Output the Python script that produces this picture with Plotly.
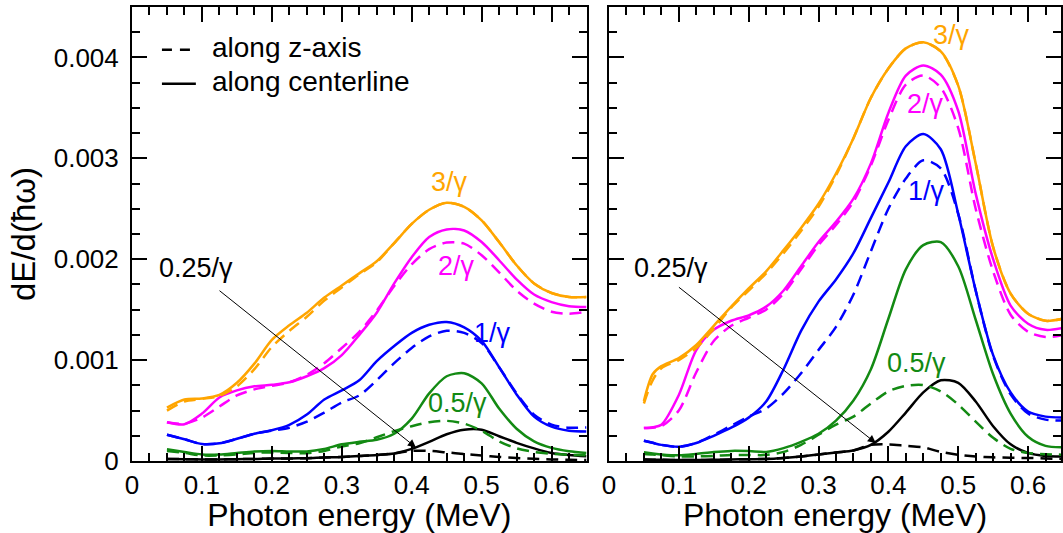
import numpy as np
import plotly.graph_objects as go

# ---------------- data (values in units of 1e-3) ----------------
x_left = [0.05, 0.075, 0.1, 0.125, 0.15, 0.175, 0.2, 0.225, 0.25, 0.275, 0.3, 0.325,
          0.35, 0.375, 0.4, 0.425, 0.45, 0.475, 0.5, 0.525, 0.55, 0.575, 0.6, 0.625, 0.65]
x_right = [0.05, 0.0625, 0.075, 0.1, 0.125, 0.15, 0.175, 0.2, 0.225, 0.25, 0.275, 0.3, 0.325,
           0.35, 0.375, 0.4, 0.425, 0.45, 0.475, 0.5, 0.525, 0.55, 0.575, 0.6, 0.625, 0.65]

# left panel
L_3_solid = [0.53, 0.61, 0.62, 0.655, 0.775, 0.965, 1.2, 1.345, 1.47, 1.62, 1.74, 1.86,
             1.98, 2.16, 2.35, 2.49, 2.56, 2.52, 2.385, 2.17, 1.94, 1.76, 1.665, 1.625, 1.625]
L_3_dash = [0.50, 0.59, 0.615, 0.645, 0.74, 0.91, 1.13, 1.29, 1.43, 1.59, 1.72, 1.85,
            1.97, 2.16, 2.35, 2.49, 2.56, 2.52, 2.385, 2.17, 1.94, 1.76, 1.665, 1.625, 1.625]
L_2_solid = [0.385, 0.365, 0.47, 0.63, 0.70, 0.74, 0.755, 0.78, 0.84, 0.92, 1.05, 1.25,
             1.47, 1.76, 2.02, 2.22, 2.295, 2.285, 2.17, 1.99, 1.80, 1.65, 1.575, 1.535, 1.527]
L_2_dash = [0.385, 0.37, 0.43, 0.54, 0.65, 0.71, 0.745, 0.78, 0.855, 0.97, 1.12, 1.28,
            1.49, 1.735, 1.95, 2.10, 2.165, 2.155, 2.04, 1.87, 1.69, 1.56, 1.48, 1.46, 1.478]
L_1_solid = [0.26, 0.215, 0.168, 0.175, 0.22, 0.27, 0.305, 0.358, 0.46, 0.61, 0.70, 0.80,
             0.99, 1.14, 1.27, 1.35, 1.378, 1.325, 1.19, 0.93, 0.66, 0.44, 0.34, 0.30, 0.293]
L_1_dash = [0.26, 0.215, 0.168, 0.175, 0.22, 0.27, 0.30, 0.33, 0.39, 0.48, 0.58, 0.65,
            0.80, 0.97, 1.12, 1.235, 1.29, 1.27, 1.17, 0.93, 0.67, 0.46, 0.36, 0.33, 0.332]
L_05_solid = [0.117, 0.09, 0.065, 0.065, 0.08, 0.095, 0.10, 0.095, 0.095, 0.12, 0.165, 0.19,
              0.21, 0.27, 0.42, 0.67, 0.84, 0.87, 0.77, 0.52, 0.32, 0.195, 0.13, 0.097, 0.079]
L_05_dash = [0.10, 0.08, 0.055, 0.055, 0.065, 0.08, 0.085, 0.08, 0.077, 0.10, 0.144, 0.175,
             0.235, 0.295, 0.345, 0.385, 0.398, 0.37, 0.30, 0.195, 0.125, 0.09, 0.072, 0.062, 0.056]
L_025_solid = [0.02, 0.018, 0.015, 0.015, 0.018, 0.02, 0.025, 0.025, 0.028, 0.035, 0.04, 0.05,
               0.06, 0.075, 0.12, 0.19, 0.265, 0.31, 0.31, 0.245, 0.18, 0.125, 0.08, 0.06, 0.046]
L_025_dash = [0.02, 0.018, 0.015, 0.015, 0.018, 0.02, 0.025, 0.025, 0.028, 0.035, 0.04, 0.05,
              0.06, 0.075, 0.10, 0.10, 0.085, 0.07, 0.055, 0.04, 0.03, 0.022, 0.016, 0.012, 0.01]

# right panel
R_3_solid = [0.595, 0.86, 0.94, 1.02, 1.15, 1.34, 1.53, 1.71, 1.88, 2.09, 2.31, 2.55, 2.85,
             3.2, 3.6, 3.89, 4.09, 4.15, 4.06, 3.72, 2.95, 2.12, 1.66, 1.46, 1.39, 1.41]
R_3_dash = [0.57, 0.80, 0.92, 1.0, 1.12, 1.31, 1.52, 1.69, 1.86, 2.06, 2.28, 2.52, 2.83,
            3.2, 3.6, 3.89, 4.09, 4.15, 4.06, 3.72, 2.95, 2.12, 1.66, 1.46, 1.39, 1.41]
R_2_solid = [0.326, 0.335, 0.36, 0.655, 1.10, 1.30, 1.39, 1.444, 1.53, 1.69, 1.93, 2.17, 2.37,
             2.6, 2.95, 3.45, 3.82, 3.92, 3.83, 3.47, 2.65, 2.0, 1.54, 1.36, 1.30, 1.32]
R_2_dash = [0.326, 0.33, 0.345, 0.50, 0.88, 1.19, 1.34, 1.42, 1.50, 1.66, 1.90, 2.14, 2.34,
            2.57, 2.93, 3.38, 3.73, 3.82, 3.70, 3.30, 2.50, 1.88, 1.45, 1.28, 1.23, 1.247]
R_1_solid = [0.20, 0.18, 0.16, 0.141, 0.178, 0.25, 0.33, 0.43, 0.59, 0.91, 1.29, 1.58, 1.80,
             2.06, 2.41, 2.76, 3.12, 3.24, 3.09, 2.45, 1.69, 1.05, 0.68, 0.49, 0.44, 0.43]
R_1_dash = [0.20, 0.18, 0.16, 0.141, 0.18, 0.26, 0.35, 0.44, 0.52, 0.67, 0.87, 1.10, 1.33,
            1.65, 2.08, 2.50, 2.80, 2.98, 2.90, 2.45, 1.69, 1.04, 0.66, 0.47, 0.41, 0.40]
R_05_solid = [0.086, 0.075, 0.065, 0.056, 0.07, 0.089, 0.10, 0.098, 0.09, 0.128, 0.19, 0.27, 0.40,
              0.60, 0.91, 1.41, 1.90, 2.14, 2.17, 1.93, 1.40, 0.86, 0.47, 0.24, 0.15, 0.135]
R_05_dash = [0.07, 0.065, 0.058, 0.045, 0.045, 0.05, 0.06, 0.06, 0.06, 0.09, 0.16, 0.26, 0.36,
             0.44, 0.57, 0.69, 0.745, 0.753, 0.69, 0.56, 0.39, 0.23, 0.12, 0.08, 0.068, 0.062]
R_025_solid = [0.015, 0.013, 0.012, 0.01, 0.01, 0.012, 0.015, 0.018, 0.02, 0.03, 0.045, 0.065, 0.085,
               0.105, 0.16, 0.29, 0.48, 0.68, 0.80, 0.775, 0.59, 0.345, 0.165, 0.08, 0.05, 0.045]
R_025_dash = [0.015, 0.013, 0.012, 0.01, 0.01, 0.012, 0.015, 0.018, 0.02, 0.03, 0.045, 0.065, 0.085,
              0.105, 0.16, 0.165, 0.15, 0.135, 0.09, 0.062, 0.045, 0.036, 0.032, 0.03, 0.025, 0.02]

x_tick_vals = [0, 0.1, 0.2, 0.3, 0.4, 0.5, 0.6]
x_tick_text = ["0", "0.1", "0.2", "0.3", "0.4", "0.5", "0.6"]
y_tick_vals = [0, 0.001, 0.002, 0.003, 0.004]
y_tick_text = ["0", "0.001", "0.002", "0.003", "0.004"]

SCALE = 1e-3
ORANGE, MAGENTA, BLUE, GREEN, BLACK = "#FFA500", "#FF00FF", "#0000FF", "#138A13", "#000000"
DASH = "12px,7px"
FONT = "Liberation Sans, Arial, Helvetica, sans-serif"

left_series = [
    (L_3_solid, L_3_dash, ORANGE),
    (L_2_solid, L_2_dash, MAGENTA),
    (L_1_solid, L_1_dash, BLUE),
    (L_05_solid, L_05_dash, GREEN),
    (L_025_solid, L_025_dash, BLACK),
]
right_series = [
    (R_3_solid, R_3_dash, ORANGE),
    (R_2_solid, R_2_dash, MAGENTA),
    (R_1_solid, R_1_dash, BLUE),
    (R_05_solid, R_05_dash, GREEN),
    (R_025_solid, R_025_dash, BLACK),
]

fig = go.Figure()
for xs, series, xa, ya in [(x_left, left_series, "x", "y"), (x_right, right_series, "x2", "y2")]:
    for solid, dash, col in series[::-1]:
        fig.add_trace(go.Scatter(x=xs, y=np.array(dash) * SCALE, mode="lines", xaxis=xa, yaxis=ya,
                                 line=dict(color=col, width=2.5, dash=DASH, shape="spline", smoothing=0.8),
                                 showlegend=False, hoverinfo="skip"))
        fig.add_trace(go.Scatter(x=xs, y=np.array(solid) * SCALE, mode="lines", xaxis=xa, yaxis=ya,
                                 line=dict(color=col, width=2.5, shape="spline", smoothing=0.8),
                                 showlegend=False, hoverinfo="skip"))

W, H = 1063, 533
ML, MR, MT, MB = 132, 0, 7, 70
pw = W - ML - MR
ph = H - MT - MB


def px(xp):
    return (xp - ML) / pw


def py(yp):
    return (H - MB - yp) / ph


axis_common = dict(showline=True, linecolor="black", linewidth=2, mirror="allticks",
                   ticks="inside", tickcolor="black", tickwidth=1.5, showgrid=False, zeroline=False,
                   tickfont=dict(size=26, color="black", family=FONT))

fig.update_layout(
    width=W, height=H, margin=dict(l=ML, r=MR, t=MT, b=MB),
    paper_bgcolor="white", plot_bgcolor="white",
    font=dict(family=FONT, color="black"),
    xaxis=dict(domain=[0, px(587.5)], range=[0, 0.65], tickvals=x_tick_vals, ticktext=x_tick_text,
               ticklen=15, minor=dict(ticks="inside", ticklen=8, dtick=0.025, tick0=0,
                                      tickcolor="black", tickwidth=1.5, showgrid=False),
               title=dict(text="Photon energy (MeV)", font=dict(size=32), standoff=10),
               anchor="y", **axis_common),
    xaxis2=dict(domain=[px(610), 1.0], range=[0, (1063 - 610) / 700], tickvals=x_tick_vals,
                ticktext=x_tick_text, ticklen=15,
                minor=dict(ticks="inside", ticklen=8, dtick=0.025, tick0=0,
                           tickcolor="black", tickwidth=1.5, showgrid=False),
                title=dict(text="Photon energy (MeV)", font=dict(size=32), standoff=10),
                anchor="y2", **axis_common),
    yaxis=dict(domain=[0, 1], range=[0, 0.0045], tickvals=y_tick_vals, ticktext=y_tick_text,
               ticklen=15, minor=dict(ticks="inside", ticklen=8, dtick=0.00025, tick0=0,
                                      tickcolor="black", tickwidth=1.5, showgrid=False),
               title=dict(text="dE/d(ħω)", font=dict(size=33), standoff=8),
               ticklabelstandoff=6, anchor="x", **axis_common),
    yaxis2=dict(domain=[0, 1], range=[0, 0.0045], tickvals=y_tick_vals, ticktext=y_tick_text,
                showticklabels=False, ticklen=15,
                minor=dict(ticks="inside", ticklen=8, dtick=0.00025, tick0=0,
                           tickcolor="black", tickwidth=1.5, showgrid=False),
                anchor="x2", **axis_common),
    showlegend=False,
)

# curve labels (data coordinates)
labels = [
    ("x", "y", 0.454, 2.77, "3/γ", ORANGE),
    ("x", "y", 0.464, 1.935, "2/γ", MAGENTA),
    ("x", "y", 0.516, 1.264, "1/γ", BLUE),
    ("x", "y", 0.466, 0.573, "0.5/γ", GREEN),
    ("x", "y", 0.091, 1.915, "0.25/γ", BLACK),
    ("x2", "y2", 0.491, 4.22, "3/γ", ORANGE),
    ("x2", "y2", 0.453, 3.54, "2/γ", MAGENTA),
    ("x2", "y2", 0.455, 2.675, "1/γ", BLUE),
    ("x2", "y2", 0.44, 0.967, "0.5/γ", GREEN),
    ("x2", "y2", 0.089, 1.915, "0.25/γ", BLACK),
]
for xr, yr, lx, ly, txt, col in labels:
    fig.add_annotation(x=lx, y=ly * SCALE, xref=xr, yref=yr, text=txt, showarrow=False,
                       font=dict(size=27, color=col, family=FONT))

arrows = [
    ("x", "y", 0.123, 1.70, 0.406, 0.135),
    ("x2", "y2", 0.098, 1.734, 0.382, 0.178),
]
for xr, yr, x0, y0, x1, y1 in arrows:
    fig.add_annotation(x=x1, y=y1 * SCALE, ax=x0, ay=y0 * SCALE, xref=xr, yref=yr,
                       axref=xr, ayref=yr, text="", showarrow=True, arrowhead=2,
                       arrowsize=1.6, arrowwidth=1, arrowcolor="black")

# legend drawn manually
fig.add_shape(type="line", xref="paper", yref="paper", x0=px(162), x1=px(196), y0=py(50), y1=py(50),
              line=dict(color="black", width=2.5, dash="10px,8px"))
fig.add_shape(type="line", xref="paper", yref="paper", x0=px(162), x1=px(196), y0=py(84), y1=py(84),
              line=dict(color="black", width=2.5))
fig.add_annotation(x=px(210), y=py(48), xref="paper", yref="paper", text="along z-axis",
                   showarrow=False, xanchor="left", yanchor="middle",
                   font=dict(size=28, color="black", family=FONT))
fig.add_annotation(x=px(210), y=py(82), xref="paper", yref="paper", text="along centerline",
                   showarrow=False, xanchor="left", yanchor="middle",
                   font=dict(size=28, color="black", family=FONT))

fig.write_html("out.html")
